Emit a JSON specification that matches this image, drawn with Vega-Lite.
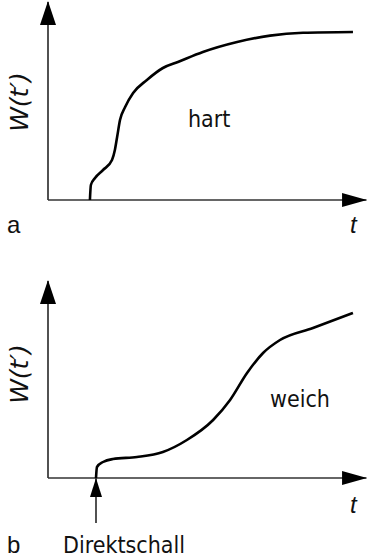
{
  "$schema": "https://vega.github.io/schema/vega-lite/v6.json",
  "padding": 0,
  "spacing": 0,
  "background": "white",
  "config": {"view": {"stroke": null}},
  "datasets": {
    "curveA": [
      {"t": 1.31, "W": 0}, {"t": 1.34, "W": 0.75}, {"t": 1.47, "W": 1.1}, {"t": 1.72, "W": 1.5},
      {"t": 2.0, "W": 2.0}, {"t": 2.09, "W": 2.5}, {"t": 2.16, "W": 3.15}, {"t": 2.25, "W": 4.0},
      {"t": 2.41, "W": 4.65}, {"t": 2.66, "W": 5.35}, {"t": 3.09, "W": 6.0}, {"t": 3.59, "W": 6.6},
      {"t": 4.06, "W": 6.9}, {"t": 4.84, "W": 7.4}, {"t": 5.91, "W": 7.9}, {"t": 6.94, "W": 8.22},
      {"t": 7.97, "W": 8.36}, {"t": 9.53, "W": 8.4}
    ],
    "curveB": [
      {"t": 1.5, "W": 0}, {"t": 1.53, "W": 0.55}, {"t": 1.72, "W": 0.8}, {"t": 2.03, "W": 0.95},
      {"t": 2.78, "W": 1.05}, {"t": 3.59, "W": 1.3}, {"t": 4.34, "W": 1.9}, {"t": 5.16, "W": 2.9},
      {"t": 5.69, "W": 3.9}, {"t": 6.22, "W": 5.25}, {"t": 6.72, "W": 6.25}, {"t": 7.25, "W": 6.9},
      {"t": 8.28, "W": 7.5}, {"t": 9.53, "W": 8.25}
    ],
    "axesA": [
      {"t": 0, "W": 0, "t2": 0, "W2": 9.9},
      {"t": 0, "W": 0, "t2": 9.95, "W2": 0}
    ],
    "axesB": [
      {"t": 0, "W": 0, "t2": 0, "W2": 9.85},
      {"t": 0, "W": 0, "t2": 9.95, "W2": 0}
    ],
    "upTipA": [{"t": 0, "W": 9.95}],
    "upTipB": [{"t": 0, "W": 9.9}],
    "rightTip": [{"t": 9.97, "W": 0}],
    "direkt": [{"t": 1.5, "W": -2.25, "t2": 1.5, "W2": 0}],
    "direktTip": [{"t": 1.5, "W": 0}],
    "ylabA": [{"t": -0.875, "W": 4.9, "label": "W(t′)"}],
    "ylabB": [{"t": -0.875, "W": 5.2, "label": "W(t′)"}],
    "tlabA": [{"t": 9.44, "W": -1.65, "label": "t"}],
    "tlabB": [{"t": 9.44, "W": -1.75, "label": "t"}],
    "panelA": [{"t": -1.28, "W": -1.65, "label": "a"}],
    "panelB": [{"t": -1.28, "W": -3.75, "label": "b"}],
    "wordA": [{"t": 4.375, "W": 3.65, "label": "hart"}],
    "wordB": [{"t": 6.94, "W": 3.55, "label": "weich"}],
    "wordDirekt": [{"t": 2.375, "W": -3.75, "label": "Direktschall"}]
  },
  "vconcat": [
    {
      "width": 368,
      "height": 280,
      "encoding": {
        "x": {"field": "t", "type": "quantitative", "scale": {"domain": [-1.5, 10], "nice": false, "zero": false}, "axis": null},
        "y": {"field": "W", "type": "quantitative", "scale": {"domain": [-4, 10], "nice": false, "zero": false}, "axis": null}
      },
      "layer": [
        {"data": {"name": "axesA"}, "mark": {"type": "rule", "color": "#333", "strokeWidth": 1.7},
         "encoding": {"x2": {"field": "t2"}, "y2": {"field": "W2"}}},
        {"data": {"name": "upTipA"}, "mark": {"type": "point", "shape": "M0,0L0.667,2L-0.667,2Z", "size": 576, "filled": true, "color": "#000", "opacity": 1, "strokeWidth": 0}},
        {"data": {"name": "rightTip"}, "mark": {"type": "point", "shape": "M0,0L-2,-0.56L-2,0.56Z", "size": 625, "filled": true, "color": "#000", "opacity": 1, "strokeWidth": 0}},
        {"data": {"name": "curveA"}, "mark": {"type": "line", "color": "#000", "strokeWidth": 2.6, "interpolate": "monotone"}},
        {"data": {"name": "ylabA"}, "mark": {"type": "text", "angle": 270, "align": "center", "baseline": "middle", "font": "DejaVu Sans, sans-serif", "fontStyle": "italic", "fontSize": 25, "color": "#111"},
         "encoding": {"text": {"field": "label"}}},
        {"data": {"name": "tlabA"}, "mark": {"type": "text", "align": "left", "baseline": "alphabetic", "font": "Liberation Sans, sans-serif", "fontStyle": "italic", "fontSize": 24, "color": "#111"},
         "encoding": {"text": {"field": "label"}}},
        {"data": {"name": "panelA"}, "mark": {"type": "text", "align": "left", "baseline": "alphabetic", "font": "Liberation Sans, sans-serif", "fontSize": 24, "color": "#111"},
         "encoding": {"text": {"field": "label"}}},
        {"data": {"name": "wordA"}, "mark": {"type": "text", "align": "left", "baseline": "alphabetic", "font": "DejaVu Sans Condensed, sans-serif", "fontSize": 23, "color": "#111"},
         "encoding": {"text": {"field": "label"}}}
      ]
    },
    {
      "width": 368,
      "height": 280,
      "encoding": {
        "x": {"field": "t", "type": "quantitative", "scale": {"domain": [-1.5, 10], "nice": false, "zero": false}, "axis": null},
        "y": {"field": "W", "type": "quantitative", "scale": {"domain": [-4.1, 9.9], "nice": false, "zero": false}, "axis": null}
      },
      "layer": [
        {"data": {"name": "axesB"}, "mark": {"type": "rule", "color": "#333", "strokeWidth": 1.7},
         "encoding": {"x2": {"field": "t2"}, "y2": {"field": "W2"}}},
        {"data": {"name": "upTipB"}, "mark": {"type": "point", "shape": "M0,0L0.667,2L-0.667,2Z", "size": 576, "filled": true, "color": "#000", "opacity": 1, "strokeWidth": 0}},
        {"data": {"name": "rightTip"}, "mark": {"type": "point", "shape": "M0,0L-2,-0.56L-2,0.56Z", "size": 625, "filled": true, "color": "#000", "opacity": 1, "strokeWidth": 0}},
        {"data": {"name": "direkt"}, "mark": {"type": "rule", "color": "#333", "strokeWidth": 1.7},
         "encoding": {"x2": {"field": "t2"}, "y2": {"field": "W2"}}},
        {"data": {"name": "direktTip"}, "mark": {"type": "point", "shape": "M0,0L0.63,2L-0.63,2Z", "size": 361, "filled": true, "color": "#000", "opacity": 1, "strokeWidth": 0}},
        {"data": {"name": "curveB"}, "mark": {"type": "line", "color": "#000", "strokeWidth": 2.6, "interpolate": "monotone"}},
        {"data": {"name": "ylabB"}, "mark": {"type": "text", "angle": 270, "align": "center", "baseline": "middle", "font": "DejaVu Sans, sans-serif", "fontStyle": "italic", "fontSize": 25, "color": "#111"},
         "encoding": {"text": {"field": "label"}}},
        {"data": {"name": "tlabB"}, "mark": {"type": "text", "align": "left", "baseline": "alphabetic", "font": "Liberation Sans, sans-serif", "fontStyle": "italic", "fontSize": 24, "color": "#111"},
         "encoding": {"text": {"field": "label"}}},
        {"data": {"name": "panelB"}, "mark": {"type": "text", "align": "left", "baseline": "alphabetic", "font": "Liberation Sans, sans-serif", "fontSize": 24, "color": "#111"},
         "encoding": {"text": {"field": "label"}}},
        {"data": {"name": "wordB"}, "mark": {"type": "text", "align": "left", "baseline": "alphabetic", "font": "DejaVu Sans Condensed, sans-serif", "fontSize": 23, "color": "#111"},
         "encoding": {"text": {"field": "label"}}},
        {"data": {"name": "wordDirekt"}, "mark": {"type": "text", "align": "center", "baseline": "alphabetic", "font": "DejaVu Sans Condensed, sans-serif", "fontSize": 23, "color": "#111"},
         "encoding": {"text": {"field": "label"}}}
      ]
    }
  ]
}
